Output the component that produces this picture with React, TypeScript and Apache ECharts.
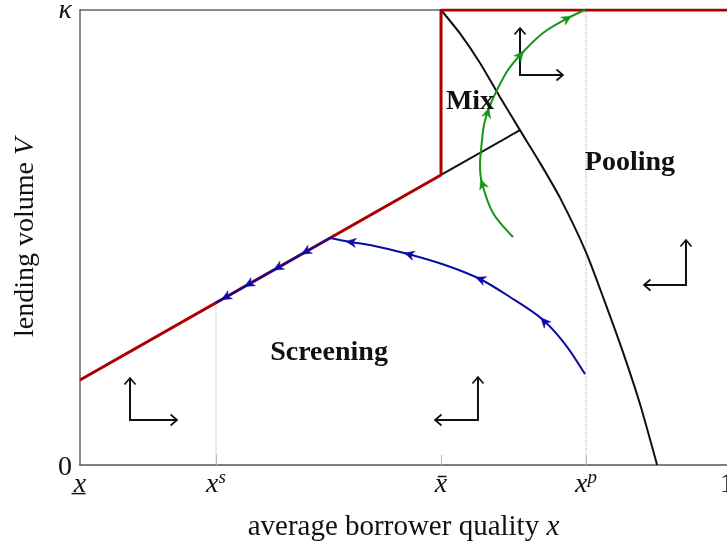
import { useEffect, useRef } from "react";
import * as echarts from "echarts";

const FONT = "'Liberation Serif', 'DejaVu Serif', serif";

// ---- axis ticks ----
const xTickValues = [0, 0.2102, 0.558, 0.7821, 1];
const xTickLabels = ["{it|x\u0332}", "{it|x}{sup|s}", "{it|x\u0304}", "{it|x}{sup|p}", "{n|1}"];
const xTickMarks = [0.2102, 0.558, 0.7821];
const yTickValues = [0, 1];
const yTickLabels = ["{n|0}", "{kappa|\u03ba}"];

// ---- regime boundaries ----
const redBoundary = [
  [0, 0.1868],
  [0.558, 0.6374],
  [0.558, 1],
  [1, 1],
];
const mixBoundary = [
  [0.558, 0.6374],
  [0.68, 0.736],
];
const poolingBoundary = [
  [0.558, 1],
  [0.587, 0.949],
  [0.618, 0.884],
  [0.649, 0.809],
  [0.68, 0.736],
  [0.711, 0.664],
  [0.742, 0.587],
  [0.782, 0.468],
  [0.81, 0.363],
  [0.838, 0.253],
  [0.866, 0.132],
  [0.892, 0],
];

// ---- guides ----
const guideXs = [
  [0.2102, 0],
  [0.2102, 0.3565],
];
const guideXp = [
  [0.7821, 0],
  [0.7821, 1],
];

// ---- trajectories ----
const blueCurve = [
  [0.7805, 0.2],
  [0.7496, 0.2659],
  [0.7141, 0.3209],
  [0.6646, 0.3692],
  [0.6182, 0.4088],
  [0.5641, 0.4396],
  [0.507, 0.4637],
  [0.4482, 0.4835],
  [0.4173, 0.4901],
  [0.3864, 0.4989],
];
const blueSliding = [
  [0.3864, 0.4989],
  [0.2102, 0.3565],
];
const blueArrowMarks = [
  [0.7187, 0.3187],
  [0.6182, 0.411],
  [0.507, 0.4637],
  [0.4173, 0.4901],
  [0.3478, 0.4676],
  [0.3045, 0.4327],
  [0.2597, 0.3965],
  [0.2241, 0.3678],
];
const greenCurve = [
  [0.6692, 0.5011],
  [0.6383, 0.5538],
  [0.6213, 0.6198],
  [0.6182, 0.6593],
  [0.6198, 0.6923],
  [0.6244, 0.7473],
  [0.6321, 0.7846],
  [0.6445, 0.8242],
  [0.6615, 0.8681],
  [0.6847, 0.9077],
  [0.7156, 0.9495],
  [0.7543, 0.9824],
  [0.7805, 1],
];
const greenArrowMarks = [
  [0.6213, 0.6198],
  [0.6337, 0.7758],
  [0.6847, 0.9011],
  [0.7543, 0.9824],
];

// ---- phase arrows: [cornerX, cornerY, verticalTipY, horizontalTipX] ----
const phaseArrows = [
  [0.0773, 0.0989, 0.1912, 0.15],
  [0.6151, 0.0989, 0.1934, 0.5487],
  [0.6801, 0.8571, 0.9604, 0.7465],
  [0.9366, 0.3956, 0.4945, 0.8717],
];

// ---- region labels ----
const regionLabels: [number, number, string][] = [
  [0.6028, 0.8022, "Mix"],
  [0.85, 0.67, "Pooling"],
  [0.3849, 0.2527, "Screening"],
];

function withDirections(curve: number[][], marks: number[][]) {
  return marks.map(([x, y]) => {
    let best = 0;
    let bd = Infinity;
    let bp = [x, y];
    for (let i = 0; i < curve.length - 1; i++) {
      const [x1, y1] = curve[i];
      const [x2, y2] = curve[i + 1];
      const dx = x2 - x1;
      const dy = y2 - y1;
      const L = dx * dx + dy * dy;
      let t = L ? ((x - x1) * dx + (y - y1) * dy) / L : 0;
      t = Math.max(0, Math.min(1, t));
      const px = x1 + t * dx;
      const py = y1 + t * dy;
      const d = (x - px) ** 2 + (y - py) ** 2;
      if (d < bd) {
        bd = d;
        best = i;
        bp = [px, py];
      }
    }
    const [x1, y1] = curve[best];
    const [x2, y2] = curve[best + 1];
    return [bp[0], bp[1], (x2 - x1) * 0.05, (y2 - y1) * 0.05];
  });
}

const RED = "#aa0000";
const BLUE = "#0a0aa8";
const GREEN = "#169616";
const BLACK = "#111111";

function arrowHeadSeries(data: number[][], color: string) {
  return {
    type: "custom",
    data,
    z: 6,
    renderItem: (_p: any, api: any) => {
      const p = api.coord([api.value(0), api.value(1)]);
      const q = api.coord([api.value(0) + api.value(2), api.value(1) + api.value(3)]);
      const ang = Math.atan2(q[1] - p[1], q[0] - p[0]);
      const c = Math.cos(ang);
      const s = Math.sin(ang);
      const shape = [
        [4, 0],
        [-6, -4.6],
        [-3, 0],
        [-6, 4.6],
      ];
      const pts = shape.map(([a, b]) => [p[0] + a * c - b * s, p[1] + a * s + b * c]);
      return { type: "polygon", shape: { points: pts }, style: { fill: color, stroke: color, lineWidth: 0.5 } };
    },
  };
}

function lineSeries(data: number[][], color: string, width: number, z: number, smooth: number | boolean = false, type = "solid") {
  return {
    type: "line",
    data,
    symbol: "none",
    showSymbol: false,
    smooth,
    z,
    lineStyle: { color, width, type },
    emphasis: { disabled: true },
    silent: true,
  };
}

export default function App() {
  const ref = useRef<HTMLDivElement>(null);
  useEffect(() => {
    if (!ref.current) return;
    document.body.style.margin = "0";
    document.body.style.overflow = "hidden";
    const chart = echarts.init(ref.current, undefined, { renderer: "svg" });
    const richBase = {
      it: { fontFamily: FONT, fontStyle: "italic", fontSize: 28, color: BLACK, lineHeight: 30 },
      sup: { fontFamily: FONT, fontStyle: "italic", fontSize: 19, color: BLACK, lineHeight: 30, verticalAlign: "top" },
      n: { fontFamily: FONT, fontSize: 28, color: BLACK, lineHeight: 30 },
      kappa: { fontFamily: FONT, fontStyle: "italic", fontSize: 28, color: BLACK, lineHeight: 14, padding: [0, 0, 4, 0] },
    };
    const richTitle = {
      it: { fontFamily: FONT, fontStyle: "italic", fontSize: 29, color: BLACK },
    };
    const blueFull = [...blueCurve, ...blueSliding.slice(1)];
    const option: any = {
      animation: false,
      grid: { left: 80, right: 0, top: 10, bottom: 85, containLabel: false, outerBoundsMode: "none" },
      xAxis: [
        {
          type: "value",
          min: 0,
          max: 1,
          position: "bottom",
          name: "average borrower quality {it|x}",
          nameLocation: "middle",
          nameGap: 45,
          nameTextStyle: { fontFamily: FONT, fontSize: 29, color: BLACK, rich: richTitle },
          axisLine: { show: true, onZero: false, lineStyle: { color: "#555", width: 1.5 } },
          axisTick: { show: true, inside: true, length: 10, customValues: xTickMarks, lineStyle: { color: "#bbb", width: 1 } },
          axisLabel: {
            show: true,
            margin: 2,
            customValues: xTickValues,
            formatter: (v: number) => {
              const i = xTickValues.findIndex((t) => Math.abs(t - v) < 1e-6);
              return i >= 0 ? xTickLabels[i] : "";
            },
            rich: richBase,
            hideOverlap: false,
          },
          splitLine: { show: false },
        },
        {
          type: "value",
          min: 0,
          max: 1,
          position: "top",
          axisLine: { show: true, onZero: false, lineStyle: { color: "#666", width: 1.5 } },
          axisTick: { show: false },
          axisLabel: { show: false },
          splitLine: { show: false },
        },
      ],
      yAxis: {
        type: "value",
        min: 0,
        max: 1,
        name: "lending volume {it|V}",
        nameLocation: "middle",
        nameGap: 42,
        nameRotate: 90,
        nameTextStyle: { fontFamily: FONT, fontSize: 28, color: BLACK, rich: richBase },
        axisLine: { show: true, onZero: false, lineStyle: { color: "#666", width: 1.5 } },
        axisTick: { show: false },
        axisLabel: {
          show: true,
          margin: 8,
          customValues: yTickValues,
          formatter: (v: number) => {
            const i = yTickValues.findIndex((t) => Math.abs(t - v) < 1e-6);
            return i >= 0 ? yTickLabels[i] : "";
          },
          rich: richBase,
        },
        splitLine: { show: false },
      },
      series: [
        lineSeries(guideXs, "#aaa", 1, 1, false, "dotted"),
        lineSeries(guideXp, "#aaa", 1, 1, false, "dotted"),
        lineSeries(poolingBoundary, BLACK, 2, 2, 0.2),
        lineSeries(mixBoundary, BLACK, 2, 2),
        lineSeries(redBoundary, RED, 3, 3),
        lineSeries(blueCurve, BLUE, 2, 4, 0.3),
        lineSeries(blueSliding, BLUE, 2, 4),
        lineSeries(greenCurve, GREEN, 2, 4, 0.3),
        arrowHeadSeries(withDirections(blueFull, blueArrowMarks), BLUE),
        arrowHeadSeries(withDirections(greenCurve, greenArrowMarks), GREEN),
        {
          type: "custom",
          data: phaseArrows,
          z: 5,
          renderItem: (_p: any, api: any) => {
            const corner = api.coord([api.value(0), api.value(1)]);
            const vt = api.coord([api.value(0), api.value(2)]);
            const ht = api.coord([api.value(3), api.value(1)]);
            const head = (tip: number[], from: number[]) => {
              const dx = tip[0] - from[0];
              const dy = tip[1] - from[1];
              const L = Math.hypot(dx, dy) || 1;
              const ux = dx / L;
              const uy = dy / L;
              const nx = -uy;
              const ny = ux;
              return {
                type: "polyline",
                shape: {
                  points: [
                    [tip[0] - 6.5 * ux + 5.5 * nx, tip[1] - 6.5 * uy + 5.5 * ny],
                    [tip[0], tip[1]],
                    [tip[0] - 6.5 * ux - 5.5 * nx, tip[1] - 6.5 * uy - 5.5 * ny],
                  ],
                },
                style: { stroke: BLACK, lineWidth: 1.7, fill: "none" },
              };
            };
            return {
              type: "group",
              children: [
                {
                  type: "polyline",
                  shape: { points: [vt, corner, ht] },
                  style: { stroke: BLACK, lineWidth: 2, fill: "none" },
                },
                head(vt, corner),
                head(ht, corner),
              ],
            };
          },
        },
        {
          type: "custom",
          data: regionLabels,
          z: 7,
          renderItem: (_p: any, api: any) => {
            const p = api.coord([api.value(0), api.value(1)]);
            return {
              type: "text",
              x: p[0],
              y: p[1],
              style: {
                text: regionLabels[_p.dataIndex][2],
                fontFamily: FONT,
                fontWeight: "bold",
                fontSize: 28,
                fill: BLACK,
                align: "center",
                verticalAlign: "middle",
              },
            };
          },
        },
      ],
    };
    chart.setOption(option);
    return () => chart.dispose();
  }, []);
  return (
    <div
      ref={ref}
      style={{ position: "fixed", left: 0, top: 0, width: 727, height: 550 }}
    />
  );
}
